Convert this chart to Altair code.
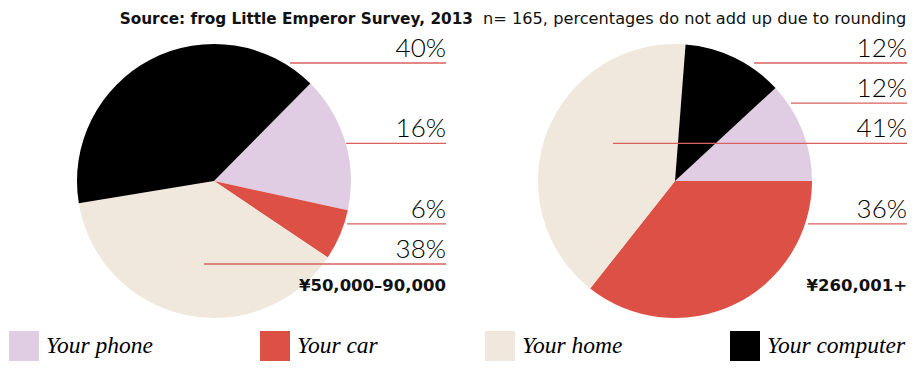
import math
import altair as alt
import pandas as pd

# ---- data ----
categories = ["Your phone", "Your car", "Your home", "Your computer"]
colors = ["#e0cde3", "#dd5046", "#f0e8dc", "#000000"]
groups = ["¥50,000–90,000", "¥260,001+"]
left_values = [16, 6, 38, 40]
right_values = [12, 36, 41, 12]
left_labels = ["16%", "6%", "38%", "40%"]
right_labels = ["12%", "36%", "41%", "12%"]
title_bold = "Source: frog Little Emperor Survey, 2013"
title_note = "n= 165, percentages do not add up due to rounding"

# ---- layout (label slots, leader-line starts in pie-radius units, start angles) ----
left_rows = [2, 4, 5, 0]
right_rows = [1, 4, 2, 0]
left_line_start = [0.964, 0.971, -0.073, 0.555]
right_line_start = [0.847, 0.971, -0.453, 0.577]
start_deg = [44.7, 47.2]

R = 137
PW, PH = 447, 312
CX, CY = 206, 173
ROW0, ROWH = 55, 40.2
SPACING = 14

x_dom = [-CX / R, (PW - CX) / R]
y_dom = [-ROW0 / ROWH, (PH - ROW0) / ROWH]
line_end = (438 - CX) / R
pie_row = (CY - ROW0) / ROWH
group_row = (283 - ROW0) / ROWH

legend = alt.Legend(
    title=None, orient="none", legendX=1, legendY=323, direction="horizontal",
    symbolType="square", symbolSize=900, symbolStrokeWidth=0, symbolOpacity=1,
    labelFont="Liberation Serif", labelFontStyle="italic", labelFontSize=23.5,
    labelColor="#000000", labelOffset=7, columnPadding=107, labelLimit=300,
)


def panel(values, labels, rows, starts, sdeg, group, extra=None):
    df = pd.DataFrame({
        "category": categories, "value": values, "idx": list(range(len(values))),
        "label": labels, "row": rows, "start": starts,
    })
    base = alt.Chart(df)
    xs = alt.Scale(domain=x_dom, nice=False, zero=False)
    ys = alt.Scale(domain=y_dom, nice=False, zero=False, reverse=True)
    a = math.radians(sdeg)
    total = sum(values)
    pie = base.mark_arc(outerRadius=R).encode(
        x=alt.XDatum(0.0, type="quantitative", scale=xs, axis=None),
        y=alt.YDatum(pie_row, type="quantitative", scale=ys, axis=None),
        theta=alt.Theta("value:Q", stack=True,
                        scale=alt.Scale(domain=[0, total], range=[a, a + 2 * math.pi], nice=False)),
        color=alt.Color("category:N", scale=alt.Scale(domain=categories, range=colors), legend=legend),
        order=alt.Order("idx:Q"),
    )
    rules = base.mark_rule(color="#d9625c", strokeWidth=1.3).encode(
        x=alt.X("start:Q", scale=xs, axis=None),
        x2=alt.datum(line_end),
        y=alt.Y("row:Q", scale=ys, axis=None),
    )
    texts = base.mark_text(align="right", baseline="alphabetic", dy=-6, font="Lato",
                           fontWeight=300, fontSize=26, color="#000000").encode(
        x=alt.datum(line_end),
        y=alt.Y("row:Q", scale=ys, axis=None),
        text="label:N",
    )
    glabel = alt.Chart(pd.DataFrame({"group": [group]})).mark_text(
        align="right", baseline="alphabetic", font="DejaVu Sans", fontWeight="bold",
        fontSize=16.5, color="#111111").encode(
        x=alt.datum(line_end), y=alt.datum(group_row), text="group:N")
    layers = [pie, rules, texts, glabel]
    if extra:
        layers += extra
    return alt.layer(*layers).properties(width=PW, height=PH)


tdf = pd.DataFrame({"bold": [title_bold], "note": [title_note]})
t1 = alt.Chart(tdf).mark_text(align="right", baseline="alphabetic", font="DejaVu Sans",
                              fontWeight="bold", fontSize=15.3, color="#111111").encode(
    x=alt.value(4), y=alt.value(16), text="bold:N")
t2 = alt.Chart(tdf).mark_text(align="left", baseline="alphabetic", font="DejaVu Sans",
                              fontSize=16.2, color="#111111").encode(
    x=alt.value(14), y=alt.value(16), text="note:N")

left = panel(left_values, left_labels, left_rows, left_line_start, start_deg[0], groups[0])
right = panel(right_values, right_labels, right_rows, right_line_start, start_deg[1], groups[1], [t1, t2])

chart = alt.hconcat(left, right, spacing=SPACING, bounds="flush").resolve_scale(
    x="independent", y="independent", theta="independent", color="shared"
).properties(padding=0).configure_view(stroke=None)

chart.save("out.html", embed_options={"renderer": "svg", "actions": False})
